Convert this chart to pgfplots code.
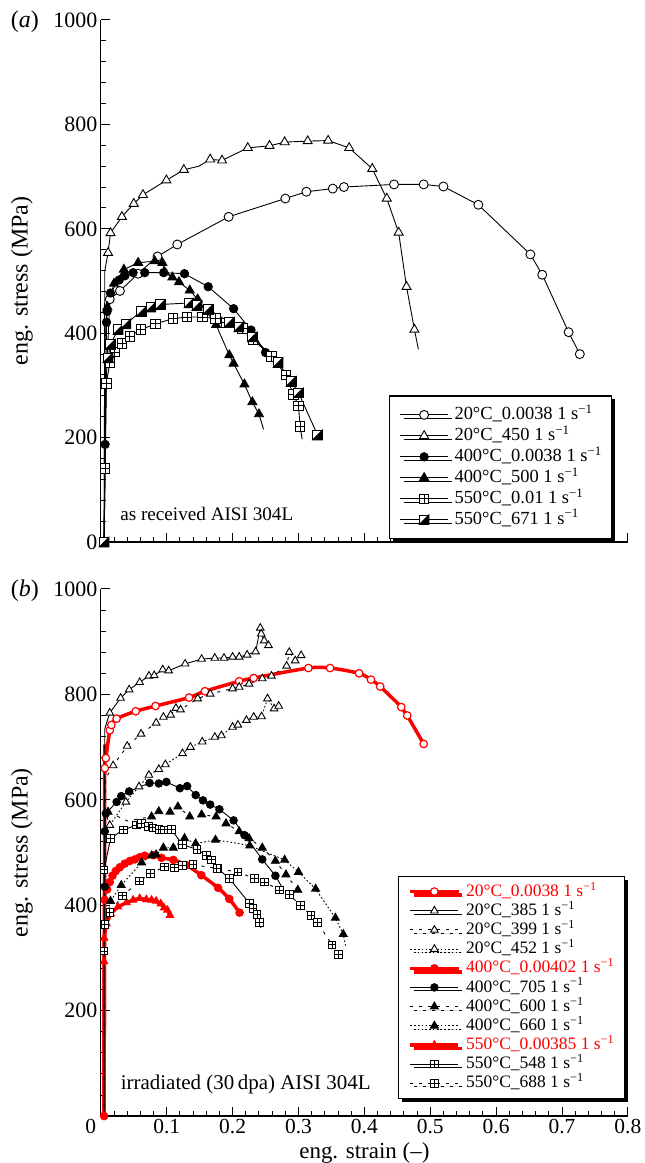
\documentclass[border=0pt]{standalone}
\usepackage{fontspec}
\setmainfont{Liberation Serif}
\usepackage{pgfplots}
\pgfplotsset{compat=1.18}
\usetikzlibrary{shadows}

\pgfdeclareplotmark{sqplus}{%
  \pgfpathrectangle{\pgfpoint{-\pgfplotmarksize}{-\pgfplotmarksize}}{\pgfpoint{2\pgfplotmarksize}{2\pgfplotmarksize}}%
  \pgfusepathqfillstroke
  \pgfpathmoveto{\pgfpoint{-\pgfplotmarksize}{0pt}}%
  \pgfpathlineto{\pgfpoint{\pgfplotmarksize}{0pt}}%
  \pgfpathmoveto{\pgfpoint{0pt}{-\pgfplotmarksize}}%
  \pgfpathlineto{\pgfpoint{0pt}{\pgfplotmarksize}}%
  \pgfusepathqstroke
}
\pgfdeclareplotmark{halfsq}{%
  \pgfpathrectangle{\pgfpoint{-\pgfplotmarksize}{-\pgfplotmarksize}}{\pgfpoint{2\pgfplotmarksize}{2\pgfplotmarksize}}%
  \pgfusepathqfillstroke
  \begin{pgfscope}
  \pgfsetfillcolor{black}%
  \pgfpathmoveto{\pgfpoint{-\pgfplotmarksize}{-\pgfplotmarksize}}%
  \pgfpathlineto{\pgfpoint{\pgfplotmarksize}{-\pgfplotmarksize}}%
  \pgfpathlineto{\pgfpoint{\pgfplotmarksize}{\pgfplotmarksize}}%
  \pgfpathclose
  \pgfusepathqfillstroke
  \end{pgfscope}
}

\pgfplotsset{
  myaxis/.style={
    scale only axis, width=528pt,
    xmin=0, xmax=0.8, ymin=0, ymax=1000,
    axis x line*=bottom, axis y line*=left,
    xtick={0,0.1,0.2,0.3,0.4,0.5,0.6,0.7,0.8},
    ytick={0,200,400,600,800,1000},
    minor x tick num=4, minor y tick num=4,
    tick align=inside,
    major tick length=9pt, minor tick length=5pt,
    tick style={black, line width=1pt},
    axis line style={black, line width=1.2pt},
    /pgf/number format/assume math mode=true,
    /pgf/number format/1000 sep={},
    ticklabel style={font=\fontsize{22}{25}\selectfont},
    xticklabel style={font=\fontsize{21.5}{24}\selectfont, inner sep=3pt},
    label style={font=\fontsize{24}{27}\selectfont},
    ylabel={eng. stress (MPa)},
    ylabel style={at={(axis description cs:-0.1496,0.5)}, anchor=center},
    clip=false,
    legend cell align=left,
    legend image code/.code={\draw[##1, mark indices={2}] plot coordinates {(0pt,0pt) (24pt,0pt) (48pt,0pt)};},
  },
  thinblack/.style={black, line width=0.9pt},
  dashA/.style={dash pattern=on 3pt off 6pt},
  dotB/.style={dash pattern=on 1.6pt off 2.2pt},
  mylegend/.style={draw=black, line width=1.2pt, fill=white,
    inner xsep=10pt,
    /tikz/column 1/.style={column sep=6pt},
    drop shadow={shadow xshift=3.5pt, shadow yshift=-3.5pt, fill=black, opacity=1}},
}

\begin{document}
\begin{tikzpicture}
\useasboundingbox (-101pt,-622pt) rectangle (545pt,543pt);

% ---------------- panel (a) ----------------
\begin{axis}[myaxis, height=523pt, at={(0pt,0pt)}, xticklabels={},
  legend style={mylegend, at={(0.547,0.281)}, anchor=north west,
    font=\fontsize{18.5}{19}\selectfont,
    inner ysep=10pt,
    nodes={inner sep=0pt, text height=13.5pt, text depth=4.5pt},
    row sep=3pt}]

\addplot[thinblack, mark=*, mark size=4.5pt, mark options={fill=white, line width=0.9pt}, mark indices={3,...,20}]
 coordinates {(0.005,0) (0.008,300) (0.0136,465) (0.029,481) (0.0565,514) (0.086,547) (0.116,570) (0.194,623) (0.28,658) (0.312,671) (0.352,677) (0.369,680) (0.445,685) (0.49,685) (0.52,681) (0.573,646) (0.652,551) (0.67,512) (0.71,402) (0.727,360)};
\addlegendentry{20°C\_0.0038 1 s\textsuperscript{−1}}

\addplot[thinblack, mark=triangle*, mark size=5.2pt, mark options={fill=white, line width=0.9pt}, mark indices={3,4,5,6,7,8,9,11,12,13,14,15,16,17,18,19,20,21,22,23}]
 coordinates {(0.005,0) (0.006,520) (0.011,554) (0.0147,592) (0.032,623) (0.05,648) (0.064,665) (0.0995,693) (0.126,713) (0.149,720) (0.166,733) (0.184,731) (0.223,755) (0.256,759) (0.279,766) (0.314,768) (0.345,769) (0.377,755) (0.412,715) (0.434,658) (0.452,593) (0.464,489) (0.476,407) (0.482,369)};
\addlegendentry{20°C\_450 1 s\textsuperscript{−1}}

\addplot[thinblack, mark=*, mark size=4.2pt, mark options={fill=black, line width=0.9pt}, mark indices={2,...,15}]
 coordinates {(0.005,0) (0.0065,187) (0.0086,421) (0.0096,442) (0.0146,477) (0.0278,502) (0.0364,510) (0.049,516) (0.0667,516) (0.0955,516) (0.127,514) (0.163,489) (0.2015,447) (0.228,406) (0.25,363)};
\addlegendentry{400°C\_0.0038 1 s\textsuperscript{−1}}

\addplot[thinblack, mark=triangle*, mark size=5.2pt, mark options={fill=black, line width=0.9pt}, mark indices={3,...,19}]
 coordinates {(0.005,0) (0.006,380) (0.01,450) (0.02,495) (0.035,522) (0.0566,535) (0.0818,538) (0.0934,535) (0.097,517) (0.1086,507) (0.1187,498) (0.135,482) (0.147,465) (0.175,416) (0.195,358) (0.2015,342) (0.218,302) (0.23,268) (0.24,245) (0.247,216)};
\addlegendentry{400°C\_500 1 s\textsuperscript{−1}}

\addplot[thinblack, mark=sqplus, mark size=4.8pt, mark options={fill=white, line width=0.9pt}, mark indices={2,...,21}]
 coordinates {(0.005,0) (0.0065,141) (0.0085,304) (0.0136,344) (0.0212,364) (0.0323,380) (0.044,394) (0.0606,407) (0.0833,418) (0.1096,428) (0.131,431) (0.154,431) (0.174,428) (0.19,420) (0.2146,409) (0.231,388) (0.2586,356) (0.281,320) (0.292,283) (0.30,261) (0.3025,221) (0.3056,197)};
\addlegendentry{550°C\_0.01 1 s\textsuperscript{−1}}

\addplot[thinblack, mark=halfsq, mark size=4.8pt, mark options={fill=white, line width=0.9pt}, mark indices={1,3,4,5,6,7,8,9,10,11,12,13,14,15,16,17,18,19}]
 coordinates {(0.005,0) (0.007,340) (0.011,353) (0.0147,379) (0.0262,407) (0.038,418) (0.0616,442) (0.0758,450) (0.0904,455) (0.134,458) (0.146,453) (0.163,446) (0.195,421) (0.2096,412) (0.23,393) (0.269,344) (0.289,308) (0.30,286) (0.329,205)};
\addlegendentry{550°C\_671 1 s\textsuperscript{−1}}

\node[anchor=west, font=\fontsize{19.2}{22}\selectfont] at (axis cs:0.0242,53.5) {as received AISI 304L};
\end{axis}

% ---------------- panel (b) ----------------
\begin{axis}[myaxis, height=528pt, at={(0pt,-575pt)},
  xticklabels={{\makebox[0pt]{\kern-20pt 0}},0.1,0.2,0.3,0.4,0.5,0.6,0.7,0.8},
  yticklabels={{},200,400,600,800,1000},
  xlabel={eng. strain (–)},
  xlabel style={at={(axis description cs:0.5,0)}, anchor=base, yshift=-42pt, font=\fontsize{23}{26}\selectfont},
  legend style={mylegend, at={(0.564,0.456)}, anchor=north west,
    font=\fontsize{17.5}{18}\selectfont,
    inner ysep=6pt,
    nodes={inner sep=0pt, text height=14pt, text depth=4.6pt},
    row sep=0.6pt}]

\addplot[red, line width=3.5pt, smooth, tension=0.5, mark=*, mark size=3.8pt, mark options={solid, fill=white, draw=red, line width=1.2pt}, mark indices={2,...,20}]
 coordinates {(0.005,0) (0.006,660) (0.0076,679) (0.0136,732) (0.016,742) (0.024,754) (0.053,768) (0.083,778) (0.134,794) (0.158,806) (0.21,825) (0.232,831) (0.315,850) (0.348,850) (0.392,840) (0.41,828) (0.424,815) (0.456,776) (0.465,760) (0.49,706)};
\addlegendentry{\textcolor{red}{20°C\_0.0038 1 s\textsuperscript{−1}}}

\addplot[thinblack, mark=triangle*, mark size=4.4pt, mark options={fill=white, line width=0.9pt}, mark indices={3,...,22}]
 coordinates {(0.005,0) (0.006,735) (0.0136,765) (0.03,793) (0.043,809) (0.059,823) (0.073,835) (0.081,836) (0.094,847) (0.103,845) (0.128,858) (0.153,867) (0.173,869) (0.187,869) (0.2,871) (0.21,871) (0.222,875) (0.235,881) (0.242,926) (0.2435,915) (0.248,902) (0.2545,893)};
\addlegendentry{20°C\_385 1 s\textsuperscript{−1}}

\addplot[thinblack, dashA, mark=triangle*, mark size=4.4pt, mark options={solid, fill=white, line width=0.9pt}, mark indices={3,...,21}]
 coordinates {(0.005,0) (0.007,640) (0.0187,665) (0.04,702) (0.061,725) (0.084,746) (0.095,757) (0.106,761) (0.114,774) (0.121,771) (0.147,792) (0.166,801) (0.2,811) (0.21,814) (0.225,820) (0.245,830) (0.259,835) (0.282,854) (0.286,880) (0.295,864) (0.304,874)};
\addlegendentry{20°C\_399 1 s\textsuperscript{−1}}

\addplot[thinblack, dotB, mark=triangle*, mark size=4.4pt, mark options={solid, fill=white, line width=0.9pt}, mark indices={3,...,21}]
 coordinates {(0.005,0) (0.007,520) (0.0136,552) (0.038,596) (0.058,625) (0.073,647) (0.088,658) (0.098,667) (0.124,688) (0.136,700) (0.154,710) (0.173,719) (0.183,722) (0.2,738) (0.208,742) (0.221,751) (0.232,757) (0.244,758) (0.253,792) (0.263,773) (0.27,778)};
\addlegendentry{20°C\_452 1 s\textsuperscript{−1}}

\addplot[red, line width=3.5pt, smooth, tension=0.5, mark=*, mark size=3.8pt, mark options={solid, fill=red, draw=red, line width=1pt}]
 coordinates {(0.005,0) (0.006,410) (0.0096,430) (0.0136,444) (0.0177,456) (0.0227,465) (0.0288,472) (0.0364,479) (0.044,484) (0.0515,487) (0.059,491) (0.0667,494) (0.08,495) (0.092,490) (0.11,486) (0.13,476) (0.1525,457) (0.178,433) (0.195,412) (0.2106,386)};
\addlegendentry{\textcolor{red}{400°C\_0.00402 1 s\textsuperscript{−1}}}

\addplot[thinblack, mark=*, mark size=3.8pt, mark options={fill=black, line width=0.9pt}, mark indices={2,...,20}]
 coordinates {(0.005,0) (0.006,435) (0.006,540) (0.0076,574) (0.024,596) (0.031,607) (0.043,616) (0.074,632) (0.088,631) (0.0995,634) (0.12,622) (0.131,626) (0.144,609) (0.155,599) (0.166,591) (0.18,582) (0.2015,561) (0.218,533) (0.245,487) (0.265,456) (0.276,432)};
\addlegendentry{400°C\_705 1 s\textsuperscript{−1}}

\addplot[thinblack, dashA, mark=triangle*, mark size=4.6pt, mark options={solid, fill=black, line width=0.9pt}, mark indices={3,5,6,7,8,9,10,11,12,13,14,15,16,17,18}]
 coordinates {(0.005,0) (0.0055,500) (0.011,577) (0.04,560) (0.077,568) (0.088,578) (0.105,577) (0.117,587) (0.135,568) (0.153,572) (0.175,568) (0.19,555) (0.21,540) (0.225,527) (0.245,509) (0.265,484) (0.281,458) (0.299,429)};
\addlegendentry{400°C\_600 1 s\textsuperscript{−1}}

\addplot[thinblack, dotB, mark=triangle*, mark size=4.6pt, mark options={solid, fill=black, line width=0.9pt}, mark indices={3,4,5,6,7,8,9,10,11,12,14,15,16,17,18,19}]
 coordinates {(0.005,0) (0.006,360) (0.0147,408) (0.031,438) (0.062,481) (0.077,494) (0.084,496) (0.095,509) (0.11,509) (0.127,527) (0.144,517) (0.174,524) (0.2,519) (0.226,513) (0.279,486) (0.30,463) (0.326,431) (0.356,376) (0.368,345) (0.372,320)};
\addlegendentry{400°C\_660 1 s\textsuperscript{−1}}

\addplot[red, line width=3.5pt, mark=triangle*, mark size=4.2pt, mark options={solid, fill=red, draw=red, line width=1pt}, mark indices={2,...,16}]
 coordinates {(0.005,0) (0.005,293) (0.005,338) (0.0086,365) (0.015,384) (0.026,397) (0.039,405) (0.049,410) (0.059,413) (0.069,411) (0.077,410) (0.084,408) (0.091,403) (0.096,395) (0.101,391) (0.105,381)};
\addlegendentry{\textcolor{red}{550°C\_0.00385 1 s\textsuperscript{−1}}}

\addplot[thinblack, mark=sqplus, mark size=3.8pt, mark options={fill=white, line width=0.9pt}, mark indices={2,...,21}]
 coordinates {(0.005,0) (0.005,467) (0.0147,527) (0.034,543) (0.054,552) (0.062,555) (0.072,549) (0.079,547) (0.088,544) (0.097,543) (0.107,544) (0.124,515) (0.146,506) (0.16,494) (0.168,486) (0.177,470) (0.195,451) (0.226,403) (0.231,394) (0.237,383) (0.241,367) (0.243,357)};
\addlegendentry{550°C\_548 1 s\textsuperscript{−1}}

\addplot[thinblack, dashA, mark=sqplus, mark size=3.8pt, mark options={solid, fill=white, line width=0.9pt}, mark indices={2,...,22}]
 coordinates {(0.005,0) (0.005,313) (0.006,364) (0.0136,386) (0.033,418) (0.059,446) (0.075,460) (0.097,473) (0.112,471) (0.124,476) (0.14,477) (0.176,470) (0.208,463) (0.233,451) (0.248,444) (0.271,429) (0.286,420) (0.303,400) (0.319,381) (0.329,367) (0.351,325) (0.361,307) (0.365,298)};
\addlegendentry{550°C\_688 1 s\textsuperscript{−1}}

\node[anchor=west, font=\fontsize{21}{24}\selectfont] at (axis cs:0.025,60) {irradiated (30\,dpa) AISI 304L};
\end{axis}

\node[font=\fontsize{24}{27}\selectfont] at (-76pt,521pt) {(\textit{a})};
\node[font=\fontsize{24}{27}\selectfont] at (-76pt,-49pt) {(\textit{b})};
\end{tikzpicture}
\end{document}
